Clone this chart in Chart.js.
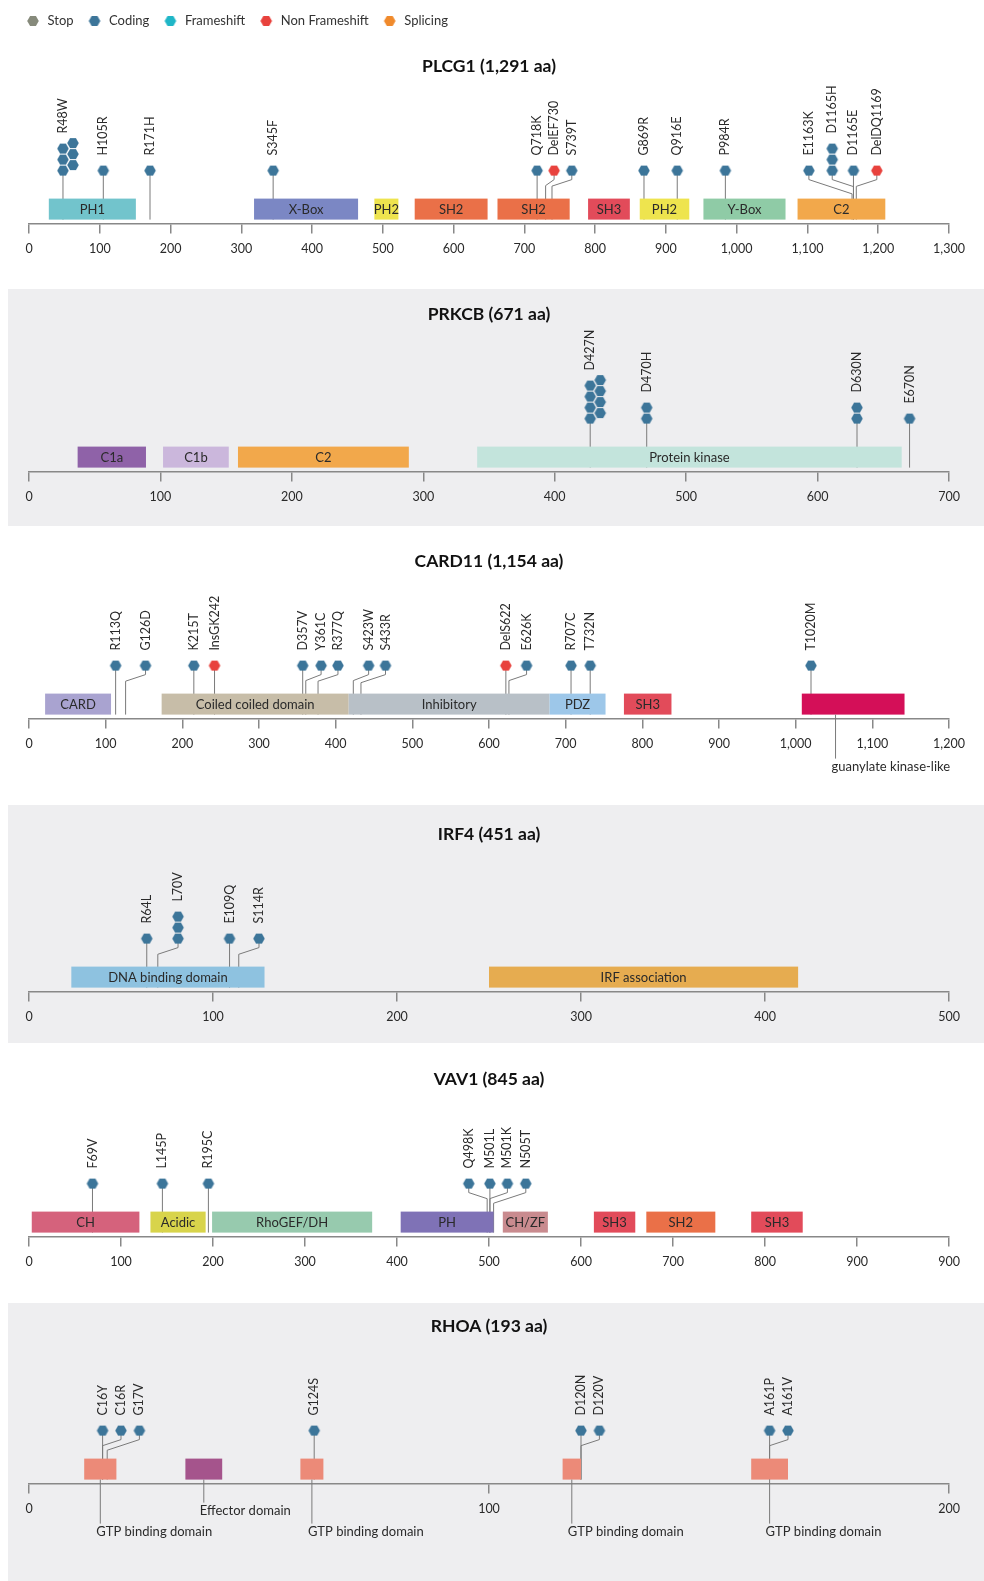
<!DOCTYPE html>
<html>
<head>
<meta charset="utf-8">
<title>Mutation maps</title>
<script src="https://cdn.jsdelivr.net/npm/chart.js@4.4.0/dist/chart.umd.min.js"></script>
<style>
  html, body { margin: 0; padding: 0; background: #ffffff; }
  #page { position: relative; width: 984px; height: 1581px; overflow: hidden; }
  .band { position: absolute; left: 8px; right: 0; background: #eeeef0; }
  canvas { position: absolute; left: 0; }
</style>
</head>
<body>
<div id="page">
  <div class="band" style="top:289px;height:237px"></div>
  <div class="band" style="top:805px;height:238px"></div>
  <div class="band" style="top:1303px;height:278px"></div>
  <canvas id="legend" width="984" height="90" style="top:0px"></canvas>
  <canvas id="plcg1" width="984" height="270" style="top:23px"></canvas>
  <canvas id="prkcb" width="984" height="270" style="top:271px"></canvas>
  <canvas id="card11" width="984" height="270" style="top:518px"></canvas>
  <canvas id="irf4" width="984" height="270" style="top:791px"></canvas>
  <canvas id="vav1" width="984" height="270" style="top:1036px"></canvas>
  <canvas id="rhoa" width="984" height="270" style="top:1283px"></canvas>
</div>
<script>
// ---- mutation classes ----
const mutationTypes = ['Stop', 'Coding', 'Frameshift', 'Non Frameshift', 'Splicing'];
const typeColors = ['#868a7b', '#3c7599', '#1fb6c7', '#e8423d', '#f08a2c'];

// ---- PLCG1 ----
const plcg1Title = 'PLCG1 (1,291 aa)';
const plcg1Max = 1300;
const plcg1Ticks = ['0','100','200','300','400','500','600','700','800','900','1,000','1,100','1,200','1,300'];
const plcg1Domains = ['PH1','X-Box','PH2','SH2','SH2','SH3','PH2','Y-Box','C2'];
const plcg1DomainStart = [28, 318, 488, 545, 662, 790, 863, 953, 1086];
const plcg1DomainEnd = [151, 465, 522, 648, 764, 849, 933, 1069, 1210];
const plcg1Mutations = ['R48W','H105R','R171H','S345F','Q718K','DelEF730','S739T','G869R','Q916E','P984R','E1163K','D1165H','D1165E','DelDQ1169'];
const plcg1Residue = [48, 105, 171, 345, 718, 730, 739, 869, 916, 984, 1163, 1165, 1165, 1169];
const plcg1Pin = [48, 105, 171, 345, 718, 742, 767, 869, 916, 984, 1102, 1135, 1165, 1198];
const plcg1Count = [6, 1, 1, 1, 1, 1, 1, 1, 1, 1, 1, 3, 1, 1];
const plcg1Type = ['Coding','Coding','Coding','Coding','Coding','Non Frameshift','Coding','Coding','Coding','Coding','Coding','Coding','Coding','Non Frameshift'];

// ---- PRKCB ----
const prkcbTitle = 'PRKCB (671 aa)';
const prkcbMax = 700;
const prkcbTicks = ['0','100','200','300','400','500','600','700'];
const prkcbDomains = ['C1a','C1b','C2','Protein kinase'];
const prkcbDomainStart = [37, 102, 159, 341];
const prkcbDomainEnd = [89, 152, 289, 664];
const prkcbMutations = ['D427N','D470H','D630N','E670N'];
const prkcbResidue = [427, 470, 630, 670];
const prkcbPin = [427, 470, 630, 670];
const prkcbCount = [8, 2, 2, 1];
const prkcbType = ['Coding','Coding','Coding','Coding'];

// ---- CARD11 ----
const card11Title = 'CARD11 (1,154 aa)';
const card11Max = 1200;
const card11Ticks = ['0','100','200','300','400','500','600','700','800','900','1,000','1,100','1,200'];
const card11Domains = ['CARD','Coiled coiled domain','Inhibitory','PDZ','SH3','guanylate kinase-like'];
const card11DomainStart = [21, 173, 417, 679, 776, 1008];
const card11DomainEnd = [107, 417, 679, 752, 838, 1142];
const card11DomainNoteRow = [0, 0, 0, 0, 0, 2];
const card11DomainNoteAt = [null, null, null, null, null, 1052];
const card11Mutations = ['R113Q','G126D','K215T','InsGK242','D357V','Y361C','R377Q','S423W','S433R','DelS622','E626K','R707C','T732N','T1020M'];
const card11Residue = [113, 126, 215, 242, 357, 361, 377, 423, 433, 622, 626, 707, 732, 1020];
const card11Pin = [113, 152, 215, 242, 357, 381, 403, 443, 465, 622, 649, 707, 732, 1020];
const card11Count = [1, 1, 1, 1, 1, 1, 1, 1, 1, 1, 1, 1, 1, 1];
const card11Type = ['Coding','Coding','Coding','Non Frameshift','Coding','Coding','Coding','Coding','Coding','Non Frameshift','Coding','Coding','Coding','Coding'];

// ---- IRF4 ----
const irf4Title = 'IRF4 (451 aa)';
const irf4Max = 500;
const irf4Ticks = ['0','100','200','300','400','500'];
const irf4Domains = ['DNA binding domain','IRF association'];
const irf4DomainStart = [23, 250];
const irf4DomainEnd = [128, 418];
const irf4Mutations = ['R64L','L70V','E109Q','S114R'];
const irf4Residue = [64, 70, 109, 114];
const irf4Pin = [64, 81, 109, 125];
const irf4Count = [1, 3, 1, 1];
const irf4Type = ['Coding','Coding','Coding','Coding'];

// ---- VAV1 ----
const vav1Title = 'VAV1 (845 aa)';
const vav1Max = 1000;
const vav1Ticks = ['0','100','200','300','400','500','600','700','800','900','900'];
const vav1Domains = ['CH','Acidic','RhoGEF/DH','PH','CH/ZF','SH3','SH2','SH3'];
const vav1DomainStart = [3, 132, 199, 404, 515, 614, 671, 785];
const vav1DomainEnd = [120, 192, 373, 505, 564, 659, 746, 841];
const vav1Mutations = ['F69V','L145P','R195C','Q498K','M501L','M501K','N505T'];
const vav1Residue = [69, 145, 195, 498, 501, 501, 505];
const vav1Pin = [69, 145, 195, 478, 501, 520, 540];
const vav1Count = [1, 1, 1, 1, 1, 1, 1];
const vav1Type = ['Coding','Coding','Coding','Coding','Coding','Coding','Coding'];

// ---- RHOA ----
const rhoaTitle = 'RHOA (193 aa)';
const rhoaMax = 200;
const rhoaTicks = ['0','100','200'];
const rhoaDomains = ['GTP binding domain','Effector domain','GTP binding domain','GTP binding domain','GTP binding domain'];
const rhoaDomainStart = [12, 34, 59, 116, 157];
const rhoaDomainEnd = [19, 42, 64, 120, 165];
const rhoaDomainNoteRow = [2, 1, 2, 2, 2];
const rhoaDomainNoteAt = [null, null, null, null, null];
const rhoaMutations = ['C16Y','C16R','G17V','G124S','D120N','D120V','A161P','A161V'];
const rhoaResidue = [16, 16, 17, 62, 120, 120, 161, 161];
const rhoaPin = [16, 20, 24, 62, 120, 124, 161, 165];
const rhoaCount = [1, 1, 1, 1, 1, 1, 1, 1];
const rhoaType = ['Coding','Coding','Coding','Coding','Coding','Coding','Coding','Coding'];

// ---- styling ----
const FONT = 'Lato, "Open Sans", sans-serif';
const AXIS_COLOR = '#888888';
const STEM_COLOR = '#7a7a7a';
const TEXT_COLOR = '#2a2a2a';
const domainColors = {
  'PH1': '#72c4cc', 'X-Box': '#7b87c4', 'PH2': '#eee44e', 'SH2': '#ea7048', 'SH3': '#e24b5a',
  'Y-Box': '#8fcba6', 'C2': '#f2a84b', 'C1a': '#8f62a8', 'C1b': '#cbb7dc', 'Protein kinase': '#c3e4dc',
  'CARD': '#a9a3d0', 'Coiled coiled domain': '#c7bda8', 'Inhibitory': '#b8c0c7', 'PDZ': '#9dc7e9',
  'guanylate kinase-like': '#d40f58', 'DNA binding domain': '#8ec2e0', 'IRF association': '#e6ac50',
  'CH': '#d5627c', 'Acidic': '#d8d44b', 'RhoGEF/DH': '#97caae', 'PH': '#7f72b6', 'CH/ZF': '#c98b8f',
  'GTP binding domain': '#ec8a78', 'Effector domain': '#a5548c'
};

// track geometry, in pixels relative to the axis line
const DOT_RISE = 53;      // height of the lowest marker above the axis
const DOT_STEP = 11;      // vertical pitch of stacked markers
const COL_SHIFT = 10;     // horizontal offset of the second marker column
const BOX_TOP = 25;
const BOX_BOTTOM = 4;
const AXIS_SPAN = 920;    // pixel length of each axis

function hexImage(color) {
  const c = document.createElement('canvas');
  c.width = 14; c.height = 14;
  const ctx = c.getContext('2d');
  ctx.fillStyle = color;
  ctx.beginPath();
  for (let k = 0; k < 6; k++) {
    const a = Math.PI / 3 * k;
    const px = 7 + 5.8 * Math.cos(a), py = 7 + 5.8 * Math.sin(a);
    if (k === 0) ctx.moveTo(px, py); else ctx.lineTo(px, py);
  }
  ctx.closePath();
  ctx.fill();
  return c;
}
const typeImages = typeColors.map(hexImage);

function makeGene(title, max, ticks, dNames, dStart, dEnd, dRow, dAt, mLabels, mRes, mPin, mCount, mType) {
  return {
    title, max, ticks,
    domains: dNames.map((n, i) => ({
      name: n, start: dStart[i], end: dEnd[i],
      row: dRow ? dRow[i] : 0, at: dAt && dAt[i] != null ? dAt[i] : (dStart[i] + dEnd[i]) / 2
    })),
    muts: mLabels.map((l, i) => ({ label: l, res: mRes[i], pin: mPin[i], count: mCount[i], type: mType[i] }))
  };
}

// marker stack: up to four in one column, larger counts in two interleaved columns
function stackPoints(m, max) {
  const pts = [];
  const shift = COL_SHIFT * max / AXIS_SPAN;
  if (m.count > 4) {
    const left = Math.ceil(m.count / 2), right = m.count - left;
    for (let k = 0; k < left; k++) pts.push({ x: m.pin, y: DOT_RISE + k * DOT_STEP });
    for (let k = 0; k < right; k++) pts.push({ x: m.pin + shift, y: DOT_RISE + (k + 0.5) * DOT_STEP });
  } else {
    for (let k = 0; k < m.count; k++) pts.push({ x: m.pin, y: DOT_RISE + k * DOT_STEP });
  }
  return pts;
}

function trackPlugin(g) {
  return {
    id: 'geneTrack',
    afterLayout(chart) {
      // y values are heights above the axis line, one unit per pixel
      const y = chart.scales.y;
      y.min = 0;
      y.max = y.bottom - y.top;
      y.configure();
    },
    beforeDatasetsDraw(chart) {
      const ctx = chart.ctx, x = chart.scales.x;
      const axisY = chart.chartArea.bottom;
      const dotY = axisY - DOT_RISE;
      const boxTop = axisY - BOX_TOP, boxBot = axisY - BOX_BOTTOM;
      ctx.save();
      // stems and leader lines
      ctx.strokeStyle = STEM_COLOR;
      ctx.lineWidth = 1;
      g.muts.forEach(m => {
        const px = x.getPixelForValue(m.pin), tx = x.getPixelForValue(m.res);
        ctx.beginPath();
        ctx.moveTo(px, dotY + 4);
        if (Math.abs(px - tx) < 1) {
          ctx.lineTo(px, boxBot);
        } else {
          const y1 = dotY + 9;
          const dy = Math.min(17, Math.max(6, Math.abs(px - tx) * 0.33));
          ctx.lineTo(px, y1);
          ctx.lineTo(tx, y1 + dy);
          ctx.lineTo(tx, boxBot);
        }
        ctx.stroke();
      });
      // domain boxes
      ctx.font = '13px ' + FONT;
      ctx.textAlign = 'center';
      ctx.textBaseline = 'middle';
      g.domains.forEach(d => {
        const x0 = x.getPixelForValue(d.start), x1 = x.getPixelForValue(d.end);
        ctx.fillStyle = domainColors[d.name];
        ctx.fillRect(x0, boxTop, x1 - x0, boxBot - boxTop);
        if (d.row === 0) {
          ctx.fillStyle = TEXT_COLOR;
          ctx.fillText(d.name, (x0 + x1) / 2, (boxTop + boxBot) / 2 + 0.5);
        }
      });
      // domain names written under the axis
      ctx.font = '13px ' + FONT;
      ctx.textAlign = 'left';
      g.domains.filter(d => d.row > 0).forEach(d => {
        const ax = x.getPixelForValue(d.at);
        const ly = axisY + (d.row === 1 ? 27 : 48);
        ctx.beginPath();
        ctx.moveTo(ax, boxBot);
        ctx.lineTo(ax, ly - 8);
        ctx.stroke();
        ctx.fillStyle = TEXT_COLOR;
        ctx.fillText(d.name, ax - 4, ly);
      });
      ctx.restore();
    },
    afterDatasetsDraw(chart) {
      const ctx = chart.ctx, x = chart.scales.x;
      const dotY = chart.chartArea.bottom - DOT_RISE;
      ctx.save();
      ctx.font = '12.5px ' + FONT;
      ctx.fillStyle = TEXT_COLOR;
      ctx.textAlign = 'left';
      ctx.textBaseline = 'middle';
      g.muts.forEach(m => {
        const levels = m.count > 4 ? Math.ceil(m.count / 2) : m.count;
        const top = dotY - (levels - 1) * DOT_STEP;
        ctx.save();
        ctx.translate(x.getPixelForValue(m.pin), top - 15);
        ctx.rotate(-Math.PI / 2);
        ctx.fillText(m.label, 0, 0);
        ctx.restore();
      });
      ctx.restore();
    }
  };
}

function drawGene(id, g) {
  const datasets = mutationTypes.map((t, ti) => ({
    label: t,
    data: g.muts.filter(m => m.type === t).flatMap(m => stackPoints(m, g.max)),
    pointStyle: typeImages[ti],
    pointRadius: 6,
    pointHoverRadius: 6,
    backgroundColor: typeColors[ti],
    borderColor: typeColors[ti],
    showLine: false,
    clip: false
  }));
  return new Chart(document.getElementById(id), {
    type: 'scatter',
    data: { datasets },
    options: {
      responsive: false,
      animation: false,
      events: [],
      layout: { padding: { left: 29, right: 35, top: 0, bottom: 28.4 } },
      plugins: {
        legend: { display: false },
        tooltip: { enabled: false },
        title: {
          display: true, text: g.title, color: '#111111',
          font: { family: FONT, size: 17.5, weight: 'bold', lineHeight: 1.2 },
          padding: { top: 32.5, bottom: 4 }
        }
      },
      scales: {
        x: {
          type: 'linear', min: 0, max: g.max,
          grid: { drawOnChartArea: false, drawTicks: true, tickLength: 10, color: AXIS_COLOR, lineWidth: 1.5 },
          border: { display: true, color: AXIS_COLOR, width: 1.5 },
          ticks: {
            stepSize: 100, autoSkip: false, maxRotation: 0, padding: 8,
            color: TEXT_COLOR, font: { family: FONT, size: 12.5 },
            callback: (v, i) => g.ticks[i]
          }
        },
        y: { type: 'linear', display: false, min: 0, max: 200 }
      }
    },
    plugins: [trackPlugin(g)]
  });
}

// legend strip across the top
new Chart(document.getElementById('legend'), {
  type: 'scatter',
  data: {
    datasets: mutationTypes.map((t, ti) => ({
      label: t, data: [], pointStyle: typeImages[ti],
      backgroundColor: typeColors[ti], borderColor: typeColors[ti]
    }))
  },
  options: {
    responsive: false,
    animation: false,
    events: [],
    layout: { padding: { left: 12, top: 1.5, right: 0, bottom: 0 } },
    plugins: {
      tooltip: { enabled: false },
      legend: {
        display: true, position: 'top', align: 'start',
        labels: {
          usePointStyle: true, pointStyleWidth: 16, padding: 13,
          color: '#333333', font: { family: FONT, size: 13 }
        }
      }
    },
    scales: { x: { display: false }, y: { display: false } }
  }
});

drawGene('plcg1', makeGene(plcg1Title, plcg1Max, plcg1Ticks, plcg1Domains, plcg1DomainStart, plcg1DomainEnd, null, null,
  plcg1Mutations, plcg1Residue, plcg1Pin, plcg1Count, plcg1Type));
drawGene('prkcb', makeGene(prkcbTitle, prkcbMax, prkcbTicks, prkcbDomains, prkcbDomainStart, prkcbDomainEnd, null, null,
  prkcbMutations, prkcbResidue, prkcbPin, prkcbCount, prkcbType));
drawGene('card11', makeGene(card11Title, card11Max, card11Ticks, card11Domains, card11DomainStart, card11DomainEnd, card11DomainNoteRow, card11DomainNoteAt,
  card11Mutations, card11Residue, card11Pin, card11Count, card11Type));
drawGene('irf4', makeGene(irf4Title, irf4Max, irf4Ticks, irf4Domains, irf4DomainStart, irf4DomainEnd, null, null,
  irf4Mutations, irf4Residue, irf4Pin, irf4Count, irf4Type));
drawGene('vav1', makeGene(vav1Title, vav1Max, vav1Ticks, vav1Domains, vav1DomainStart, vav1DomainEnd, null, null,
  vav1Mutations, vav1Residue, vav1Pin, vav1Count, vav1Type));
drawGene('rhoa', makeGene(rhoaTitle, rhoaMax, rhoaTicks, rhoaDomains, rhoaDomainStart, rhoaDomainEnd, rhoaDomainNoteRow, rhoaDomainNoteAt,
  rhoaMutations, rhoaResidue, rhoaPin, rhoaCount, rhoaType));
</script>
</body>
</html>
